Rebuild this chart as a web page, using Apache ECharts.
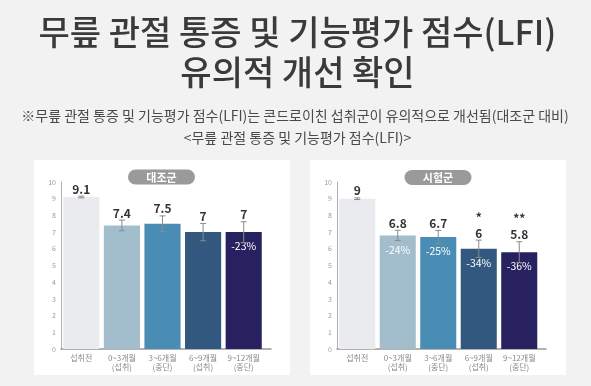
<!DOCTYPE html>
<html><head><meta charset="utf-8">
<script src="https://cdn.jsdelivr.net/npm/echarts@6/dist/echarts.min.js"></script>
<style>html,body{margin:0;padding:0;background:#f2f2f2}#c{width:591px;height:386px}</style>
</head><body><div id="c"></div>
<script>
const categories = ['섭취전', '0~3개월\n(섭취)', '3~6개월\n(중단)', '6~9개월\n(섭취)', '9~12개월\n(중단)'];
const yTicks = [0,1,2,3,4,5,6,7,8,9,10];
const controlValues = [9.1, 7.4, 7.5, 7, 7];
const controlErrors = [0.05, 0.32, 0.47, 0.52, 0.62];
const controlPct = ['', '', '', '', '-23%'];
const controlSig = ['', '', '', '', ''];
const testValues = [9, 6.8, 6.7, 6, 5.8];
const testErrors = [0.05, 0.31, 0.4, 0.52, 0.62];
const testPct = ['', '-24%', '-25%', '-34%', '-36%'];
const testSig = ['', '', '', '*', '**'];
const barColors = ['#e9ebee', '#a2bdcc', '#4a8db4', '#32587f', '#27215f'];
const FONT = '"Noto Sans CJK KR", "Noto Sans", sans-serif';

const chart = echarts.init(document.getElementById('c'));

const grids = [
  {left: 61, top: 182, width: 203, height: 167},
  {left: 337, top: 182, width: 202.5, height: 167},
  {left: 61, top: 182, width: 210, height: 167},
  {left: 337, top: 182, width: 209, height: 167}
];

function catAxis(gi){
  return {type:'category', gridIndex: gi, data: categories, boundaryGap: true,
    axisLine:{show:false}, axisTick:{show:false},
    axisLabel:{fontSize:8, color:'#8a8a8a', fontFamily:FONT, lineHeight:9, margin:4, interval:0}};
}
function valAxis(gi){
  return {type:'value', gridIndex: gi, min: yTicks[0], max: yTicks[yTicks.length-1], interval: 1,
    axisLine:{show:true, lineStyle:{color:'#b0b0b0', width:1}}, axisTick:{show:false}, splitLine:{show:false},
    axisLabel:{fontSize:7, color:'#9a9a9a', fontFamily:FONT, margin:5}};
}
function lineX(gi){
  return {type:'value', gridIndex: gi, min:0, max:1, axisLabel:{show:false}, axisTick:{show:false}, splitLine:{show:false},
    axisLine:{show:true, lineStyle:{color:'#999', width:1.5}}};
}
function lineY(gi){
  return {type:'value', gridIndex: gi, min:0, max:1, show:false};
}

function barSeries(idx, values, pct){
  return {type:'bar', xAxisIndex: idx, yAxisIndex: idx, barCategoryGap: '11%',
    data: values.map((v,i)=>({value:v, itemStyle:{color: barColors[i]}})),
    label:{show:true, position:'insideTop', distance:9, color:'#fff', fontSize:10.5, fontFamily:FONT,
      formatter: p => pct[p.dataIndex]},
    z: 2};
}
function errSeries(idx, values, errs, sig){
  return {type:'custom', xAxisIndex: idx, yAxisIndex: idx, z: 5,
    data: values.map((v,i)=>[i, v, errs[i]]),
    renderItem: function(params, api){
      const i = params.dataIndex;
      const x = api.value(0), v = api.value(1), e = api.value(2);
      const t = api.coord([x, v+e]);
      const b = api.coord([x, v-e]);
      const cap = 3;
      const ls = {stroke:'#8a8a8a', lineWidth:1};
      const children = [
        {type:'line', shape:{x1:t[0], y1:t[1], x2:b[0], y2:b[1]}, style:ls},
        {type:'line', shape:{x1:t[0]-cap, y1:t[1], x2:t[0]+cap, y2:t[1]}, style:ls},
        {type:'line', shape:{x1:b[0]-cap, y1:b[1], x2:b[0]+cap, y2:b[1]}, style:ls},
        {type:'text', style:{text: String(values[i]), x:t[0], y:t[1]-1, align:'center', verticalAlign:'bottom',
          font: 'bold 12px ' + FONT, fill:'#333'}}
      ];
      if (sig[i]) {
        children.push({type:'text', style:{text: sig[i], x:t[0], y:t[1]-17, align:'center', verticalAlign:'bottom',
          font: 'bold 12px ' + FONT, fill:'#333'}});
      }
      return {type:'group', children};
    }
  };
}

function badge(cx, cy, label){
  return {type:'group', x: cx, y: cy, z: 20, children:[
    {type:'rect', shape:{x:-33.5, y:-7.5, width:67, height:15, r:7.5}, style:{fill:'#9a9a9a'}},
    {type:'text', style:{text: label, x:0, y:0.5, align:'center', verticalAlign:'middle', font:'bold 11px ' + FONT, fill:'#fff'}}
  ]};
}

chart.setOption({
  backgroundColor: '#f2f2f2',
  animation: false,
  grid: grids,
  xAxis: [catAxis(0), catAxis(1), lineX(2), lineX(3)],
  yAxis: [valAxis(0), valAxis(1), lineY(2), lineY(3)],
  graphic: [
    {type:'rect', z:-10, shape:{x:34, y:160, width:256, height:215}, style:{fill:'#fff'}},
    {type:'rect', z:-10, shape:{x:310, y:160, width:256, height:215}, style:{fill:'#fff'}},
    {type:'text', z:10, style:{text:'무릎 관절 통증 및 기능평가 점수(LFI)', x:297.5, y:32, align:'center', verticalAlign:'middle',
      font:'500 34px ' + FONT, fill:'#3a3a3a'}},
    {type:'text', z:10, style:{text:'유의적 개선 확인', x:297.5, y:72, align:'center', verticalAlign:'middle',
      font:'500 34px ' + FONT, fill:'#3a3a3a'}},
    {type:'text', z:10, style:{text:'※무릎 관절 통증 및 기능평가 점수(LFI)는 콘드로이친 섭취군이 유의적으로 개선됨(대조군 대비)', x:295, y:116, align:'center', verticalAlign:'middle',
      font:'14px ' + FONT, fill:'#4a4a4a'}},
    {type:'text', z:10, style:{text:'<무릎 관절 통증 및 기능평가 점수(LFI)>', x:297.5, y:137.5, align:'center', verticalAlign:'middle',
      font:'14px ' + FONT, fill:'#4a4a4a'}},
    badge(161.5, 177, '대조군'),
    badge(438, 177.5, '시험군')
  ],
  series: [
    barSeries(0, controlValues, controlPct),
    barSeries(1, testValues, testPct),
    errSeries(0, controlValues, controlErrors, controlSig),
    errSeries(1, testValues, testErrors, testSig)
  ]
});
</script></body></html>
